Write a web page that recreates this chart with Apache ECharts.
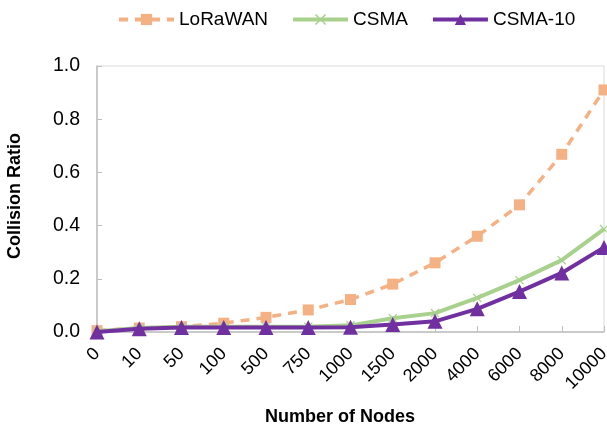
<!DOCTYPE html>
<html><head><meta charset="utf-8">
<script src="https://cdn.jsdelivr.net/npm/echarts@6/dist/echarts.min.js"></script>
<style>html,body{margin:0;padding:0;background:#fff}#c{width:607px;height:428px}</style>
</head><body><div id="c"></div>
<script>
const categories = ['0','10','50','100','500','750','1000','1500','2000','4000','6000','8000','10000'];
const lorawan = [0.005,0.015,0.02,0.033,0.055,0.083,0.122,0.18,0.26,0.36,0.478,0.668,0.91];
const csma = [0.003,0.015,0.02,0.02,0.02,0.02,0.025,0.052,0.071,0.128,0.195,0.27,0.387];
const csma10 = [0.0,0.012,0.017,0.017,0.017,0.017,0.018,0.028,0.04,0.087,0.152,0.222,0.318];
const yTicks = [0,0.2,0.4,0.6,0.8,1.0];

const font = 'Liberation Sans, Arial, sans-serif';
const xMark = 'path://M0,1L1,0L5,4L9,0L10,1L6,5L10,9L9,10L5,6L1,10L0,9L4,5Z';
const chart = echarts.init(document.getElementById('c'), null, {renderer:'canvas'});
chart.setOption({
  animation:false,
  textStyle:{fontFamily:font},
  legend:{
    top:5, left:112, itemWidth:55, itemHeight:14, itemGap:23,
    lineStyle:{width:4},
    textStyle:{fontSize:19, color:'#000', fontFamily:font},
    data:['LoRaWAN','CSMA','CSMA-10']
  },
  grid:{left:97, right:3, top:66, bottom:96, show:true, borderColor:'#d9d9d9', borderWidth:1,
        containLabel:false, outerBoundsMode:'none'},
  xAxis:{
    type:'category', data:categories, boundaryGap:false,
    name:'Number of Nodes', nameLocation:'middle', nameGap:76,
    nameTextStyle:{fontSize:18, fontWeight:'bold', color:'#000', fontFamily:font, padding:[0,21,0,0]},
    axisLine:{lineStyle:{color:'#bfbfbf', width:1.5}},
    axisTick:{inside:true, length:6, lineStyle:{color:'#bfbfbf'}},
    axisLabel:{rotate:45, fontSize:18, color:'#000', margin:19, fontFamily:font},
    splitLine:{show:false}
  },
  yAxis:{
    type:'value', min:0, max:1, interval:0.2,
    name:'Collision Ratio', nameLocation:'middle', nameGap:73,
    nameTextStyle:{fontSize:18, fontWeight:'bold', color:'#000', fontFamily:font, padding:[0,0,0,6]},
    axisLine:{show:true, lineStyle:{color:'#bfbfbf', width:1.5}},
    axisTick:{show:true, inside:true, length:5, lineStyle:{color:'#bfbfbf'}},
    axisLabel:{fontSize:19.5, color:'#000', margin:17, fontFamily:font, formatter:v=>v.toFixed(1)},
    splitLine:{show:false}
  },
  series:[
    {name:'LoRaWAN', type:'line', data:lorawan, symbol:'rect', symbolSize:11,
     itemStyle:{color:'#F4B183'}, lineStyle:{color:'#F4B183', width:3.5, type:[9,7]}, z:2},
    {name:'CSMA', type:'line', data:csma, symbol:xMark, symbolSize:9,
     itemStyle:{color:'#A9D18E'}, lineStyle:{color:'#A9D18E', width:4}, z:3},
    {name:'CSMA-10', type:'line', data:csma10, symbol:'triangle', symbolSize:15,
     itemStyle:{color:'#7030A0'}, lineStyle:{color:'#7030A0', width:4}, z:4}
  ]
});
</script></body></html>
